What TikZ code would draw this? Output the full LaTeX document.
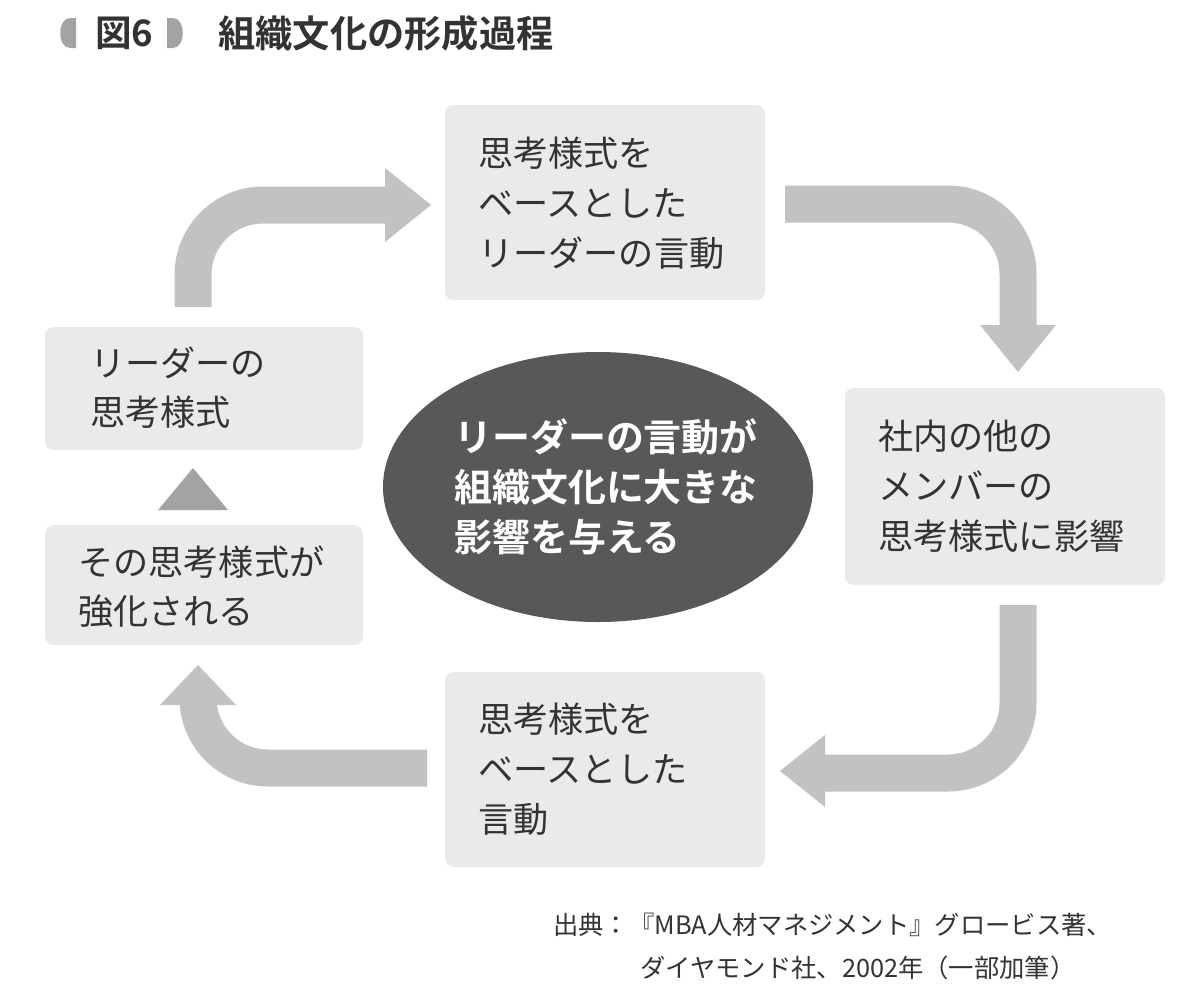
\documentclass[tikz,border=0pt]{standalone}
\usepackage{fontspec}
\newfontfamily\jp{Noto Sans CJK JP}
\newfontfamily\jpb{Noto Sans CJK JP Bold}
\begin{document}
\begin{tikzpicture}[x=0.025cm,y=-0.025cm,
  box/.style={fill=boxgray,rounded corners=6pt,draw=none},
  txt/.style={anchor=north west,align=left,text=txtgray,font=\jp\fontsize{25}{35.5}\selectfont,inner sep=0},
  band/.style={draw=arrgray,line width=37*0.025cm,rounded corners=70*0.025cm},
  head/.style={fill=arrgray,draw=none}]
\definecolor{boxgray}{HTML}{E9EAEA}
\definecolor{arrgray}{HTML}{C2C2C2}
\definecolor{txtgray}{HTML}{333333}
\definecolor{dark}{HTML}{595757}
\definecolor{tri}{HTML}{A3A3A3}
\useasboundingbox (0,0) rectangle (1200,987);
% title
\fill[tri] (76,18) -- (70,18) .. controls (57,18) and (57,48) .. (70,48) -- (76,48) -- cycle;
\node[anchor=west,inner sep=0,text=txtgray,font=\jpb\fontsize{26}{30}\selectfont] (fig) at (95,33) {図6};
\fill[tri] (167,18) -- (173,18) .. controls (186,18) and (186,48) .. (173,48) -- (167,48) -- cycle;
\node[anchor=west,inner sep=0,text=txtgray,font=\jpb\fontsize{26.5}{30}\selectfont] (title) at (218,33) {組織文化の形成過程};
% boxes
\fill[box] (445,105) rectangle (765,300);
\fill[box] (845,388) rectangle (1165,585);
\fill[box] (445,672) rectangle (765,867);
\fill[box] (45,327) rectangle (363,450);
\fill[box] (45,525) rectangle (363,645);
\node[txt] (t1) at (478,137) {思考様式を\\ベースとした\\リーダーの言動};
\node[txt] (t2) at (878,420) {社内の他の\\メンバーの\\思考様式に影響};
\node[txt] (t3) at (478,703) {思考様式を\\ベースとした\\言動};
\node[txt] (t4) at (90,346) {リーダーの\\思考様式};
\node[txt] (t5) at (78,545) {その思考様式が\\強化される};
% triangle
\fill[tri] (158,510) -- (228,510) -- (193,468) -- cycle;
% ellipse
\fill[dark] (598,487) ellipse[x radius=215,y radius=135];
\node[anchor=center,align=left,text=white,font=\jpb\fontsize{27}{35.5}\selectfont,inner sep=0] (c) at (606,487) {リーダーの言動が\\組織文化に大きな\\影響を与える};
% arrows
\draw[band] (193,307) -- (193,205) -- (388,205);
\fill[head] (385,168) -- (431,205) -- (385,242) -- cycle;
\draw[band] (785,204) -- (1018,204) -- (1018,328);
\fill[head] (980,325) -- (1056,325) -- (1018,372) -- cycle;
\draw[band] (1018,605) -- (1018,773) -- (822,773);
\fill[head] (825,735) -- (780,771) -- (825,807) -- cycle;
\draw[band] (427,768) -- (198,768) -- (198,702);
\fill[head] (160,705) -- (236,705) -- (198,665) -- cycle;
% source
\node[anchor=west,inner sep=0,text=txtgray,font=\jp\fontsize{18}{22}\selectfont] (s1) at (553,925) {出典：『MBA人材マネジメント』グロービス著、};
\node[anchor=west,inner sep=0,text=txtgray,font=\jp\fontsize{18}{22}\selectfont] (s2) at (640,968) {ダイヤモンド社、2002年（一部加筆）};
\end{tikzpicture}
\end{document}
